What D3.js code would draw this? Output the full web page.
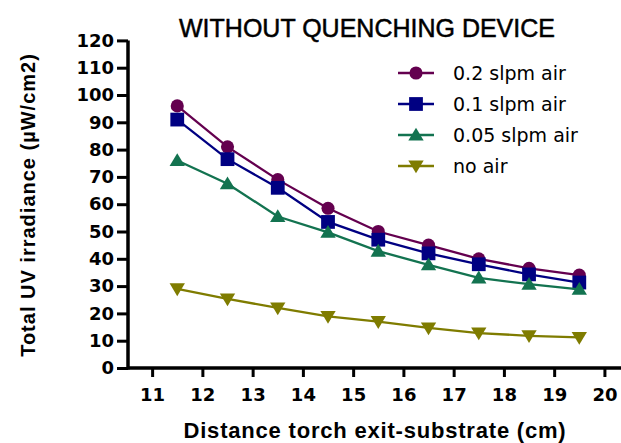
<!DOCTYPE html>
<html>
<head>
<meta charset="utf-8">
<script src="https://cdn.jsdelivr.net/npm/d3@7"></script>
<style>
  html, body { margin: 0; padding: 0; background: #fff; }
  svg { display: block; }
</style>
</head>
<body>
<svg id="chart" width="621" height="443"></svg>
<script>
// Distance from torch exit to substrate (cm)
const distances = [11.5, 12.5, 13.5, 14.5, 15.5, 16.5, 17.5, 18.5, 19.5];
// Total UV irradiance (µW/cm2) for each air flow setting
const air02 = [96, 81, 69, 58.5, 50, 45, 40, 36.5, 34];
const air01 = [91, 76.5, 66, 53.5, 47, 42, 38, 34.3, 31.3];
const air005 = [76, 67.5, 55.5, 49.7, 42.8, 37.8, 33, 30.7, 28.8];
const noAir = [29, 25.3, 22, 18.9, 17, 14.7, 12.8, 11.8, 11.2];
const seriesNames = ["0.2 slpm air", "0.1 slpm air", "0.05 slpm air", "no air"];
const xTicks = [11, 12, 13, 14, 15, 16, 17, 18, 19, 20];
const yTicks = [0, 10, 20, 30, 40, 50, 60, 70, 80, 90, 100, 110, 120];

const series = [
  { name: seriesNames[0], values: air02, color: "#64004f", symbol: d3.symbolCircle, size: 135 },
  { name: seriesNames[1], values: air01, color: "#000082", symbol: d3.symbolSquare, size: 190 },
  { name: seriesNames[2], values: air005, color: "#137350", symbol: "up" },
  { name: seriesNames[3], values: noAir, color: "#7f7c00", symbol: "down" }
];

const svg = d3.select("#chart");
const x = d3.scaleLinear().domain([10.52, 20.33]).range([128, 621]);
const y = d3.scaleLinear().domain([0, 120]).range([368, 40.4]);

// triangle shapes drawn as explicit paths
function markerPath(s, r) {
  if (s === "up") return `M0,${-r}L${r*1.05},${r*0.75}L${-r*1.05},${r*0.75}Z`;
  return `M0,${r}L${r*1.05},${-r*0.75}L${-r*1.05},${-r*0.75}Z`;
}
function drawMarker(g, s, cx, cy) {
  const d = typeof s.symbol === "string" ? markerPath(s.symbol, 7.3) : d3.symbol(s.symbol, s.size)();
  g.append("path").attr("d", d)
    .attr("transform", `translate(${cx},${cy})`).attr("fill", s.color);
}

// Axes
const font = "Arial, 'Liberation Sans', sans-serif";
const tickFont = "'DejaVu Sans', Verdana, sans-serif";
const yAxis = d3.axisLeft(y).tickValues(yTicks).tickSize(11).tickPadding(3);
const gy = svg.append("g").attr("transform", "translate(128,0)").call(yAxis);
const xAxis = d3.axisBottom(x).tickValues(xTicks).tickSize(9).tickPadding(11);
const gx = svg.append("g").attr("transform", "translate(0,368)").call(xAxis);
[gx, gy].forEach(g => {
  g.select(".domain").attr("stroke", "#000").attr("stroke-width", 3.5);
  g.selectAll(".tick line").attr("stroke", "#000").attr("stroke-width", 3);
  g.selectAll(".tick text").attr("fill", "#000")
    .style("font-family", tickFont).style("font-size", "18px").style("font-weight", "bold");
});
gy.select(".domain").attr("d", `M0,${y(120)}V${y(0) + 1.5}`);
gx.select(".domain").attr("d", `M${x.range()[0]},0H${x.range()[1]}`);

// Lines and markers
const line = d3.line().x((d, i) => x(distances[i])).y(d => y(d));
series.forEach(s => {
  svg.append("path").datum(s.values).attr("d", line)
    .attr("fill", "none").attr("stroke", s.color).attr("stroke-width", 2.3);
  const g = svg.append("g");
  s.values.forEach((v, i) => drawMarker(g, s, x(distances[i]), y(v)));
});

// Title
svg.append("text").attr("x", 367).attr("y", 37).attr("text-anchor", "middle")
  .style("font-family", font).style("font-size", "25px").attr("fill", "#000")
  .attr("stroke", "#000").attr("stroke-width", 0.5)
  .text("WITHOUT QUENCHING DEVICE");

// Legend
const legendY = [73, 104, 135, 166];
series.forEach((s, i) => {
  const g = svg.append("g");
  g.append("line").attr("x1", 398).attr("x2", 434).attr("y1", legendY[i]).attr("y2", legendY[i])
    .attr("stroke", s.color).attr("stroke-width", 2.3);
  drawMarker(g, s, 416, legendY[i]);
  g.append("text").attr("x", 453).attr("y", legendY[i] + 6.5)
    .style("font-family", tickFont).style("font-size", "19px").attr("fill", "#000")
    .text(s.name);
});

// Axis titles
svg.append("text").attr("x", 375).attr("y", 438).attr("text-anchor", "middle")
  .style("font-family", font).style("font-size", "22px").style("font-weight", "bold")
  .style("letter-spacing", "0.8px").attr("fill", "#000")
  .text("Distance torch exit-substrate (cm)");
svg.append("text").attr("transform", "translate(35,205) rotate(-90)").attr("text-anchor", "middle")
  .style("font-family", font).style("font-size", "20px").style("font-weight", "bold")
  .style("letter-spacing", "1px").attr("fill", "#000")
  .text("Total UV irradiance (µW/cm2)");
</script>
</body>
</html>
